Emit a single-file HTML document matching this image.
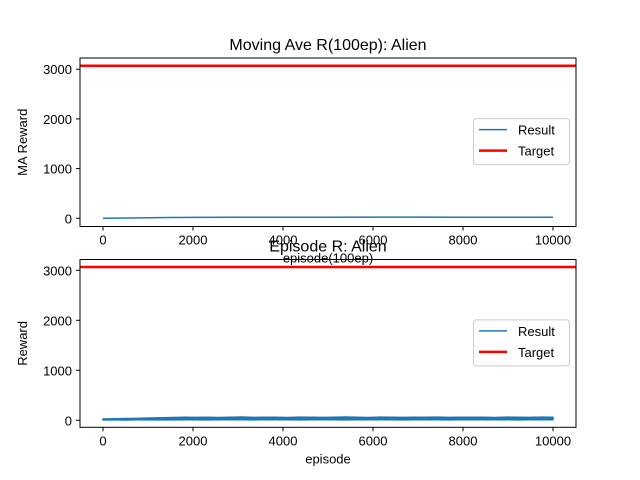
<!DOCTYPE html>
<html><head><meta charset="utf-8"><style>
body{margin:0;background:#fff}
svg{display:block;font-family:"Liberation Sans","DejaVu Sans",sans-serif}
</style></head><body>
<svg id="chart" width="640" height="480"></svg>
<script>
const maEpisodes=[0,500,1000,1500,2000,3000,4000,5000,6000,7000,8000,9000,10000];
const maValues=[2,6,12,17,18,20,21,22,23,23,22,22,21];
const target=[3070,3065];
const epLow=[5,8,6,10,9,12,8,11,10,9,12,10,11,9,13,10,12,9,11,10,12,9,10,11,12,10,9,11,10,12,9,11,10,12,11,10,9,12,10,11];
const epHigh=[25,30,35,38,45,50,55,60,58,62,55,60,65,58,60,62,57,63,60,58,62,65,60,57,63,60,58,62,60,64,58,61,60,62,57,63,60,58,64,62];
const xTicks=[0,2000,4000,6000,8000,10000];
const yTicks=[0,1000,2000,3000];
const NS="http://www.w3.org/2000/svg";
const svg=document.getElementById('chart');
function el(t,a,p){const e=document.createElementNS(NS,t);for(const k in a)e.setAttribute(k,a[k]);(p||svg).appendChild(e);return e;}
const X=v=>103+v*0.045;
function panel(top,bottom,y0px,pxPer,title,ylab,xlab,tgt,series){
  const Y=v=>y0px-v*pxPer;
  const g=el('g',{});
  
  
  const t=el('text',{x:328,y:top-8,'font-size':16,'text-anchor':'middle',fill:'#000'},g);t.textContent=title;
  
  xTicks.forEach(v=>{el('line',{x1:X(v),x2:X(v),y1:bottom,y2:bottom+4,stroke:'#000'},g);
    const tx=el('text',{x:X(v),y:bottom+18,'font-size':13,'text-anchor':'middle'},g);tx.textContent=v;
    });
  yTicks.forEach(v=>{el('line',{x1:76,x2:80,y1:Y(v),y2:Y(v),stroke:'#000'},g);
    const tx=el('text',{x:72,y:Y(v)+5,'font-size':13,'text-anchor':'end'},g);tx.textContent=v;
    });
  const yl=el('text',{x:27,y:(top+bottom)/2,'font-size':13,'text-anchor':'middle',transform:`rotate(-90 27 ${(top+bottom)/2})`},g);yl.textContent=ylab;
  
  const xl=el('text',{x:328,y:bottom+36,'font-size':13,'text-anchor':'middle'},g);xl.textContent=xlab;
  
  series(Y,g);
  const tl=el('line',{x1:80,x2:576,y1:Y(tgt),y2:Y(tgt),stroke:'#ff0000','stroke-width':2.5},g);
  
  el('rect',{x:80,y:top,width:496,height:bottom-top,fill:'none',stroke:'#000','stroke-width':1},g);
  const ly=top+(bottom-top)*0.36;
  const lg=el('g',{},g);
  el('rect',{x:473.5,y:ly,width:96,height:46,rx:3,fill:'#fff','fill-opacity':0.8,stroke:'#ccc'},lg);
  el('line',{x1:479,x2:507,y1:ly+11,y2:ly+11,stroke:'#1f77b4','stroke-width':1.5},lg);
  el('line',{x1:479,x2:507,y1:ly+32,y2:ly+32,stroke:'#ff0000','stroke-width':2.5},lg);
  const r=el('text',{x:518,y:ly+16,'font-size':13},lg);r.textContent='Result';
  
  const tg=el('text',{x:518,y:ly+37,'font-size':13},lg);tg.textContent='Target';
  
}
panel(58,226.5,218.3,0.0497,'Moving Ave R(100ep): Alien','MA Reward','episode(100ep)',target[0],(Y,g)=>{
  const p=el('polyline',{points:maEpisodes.map((e,i)=>X(e)+','+Y(maValues[i])).join(' '),fill:'none',stroke:'#1f77b4','stroke-width':1.5},g);
  
});
panel(259.5,427.3,420.3,0.05,'Episode R: Alien','Reward','episode',target[1],(Y,g)=>{
  const n=epLow.length,up=[],dn=[];
  for(let i=0;i<n;i++){const e=10000*i/(n-1);up.push(X(e)+','+Y(epHigh[i]));dn.unshift(X(e)+','+Y(epLow[i]));}
  const p=el('polygon',{points:up.concat(dn).join(' '),fill:'#1f77b4',stroke:'#1f77b4','stroke-width':1.5,'stroke-linejoin':'round'},g);
  
});
</script>
</body></html>
